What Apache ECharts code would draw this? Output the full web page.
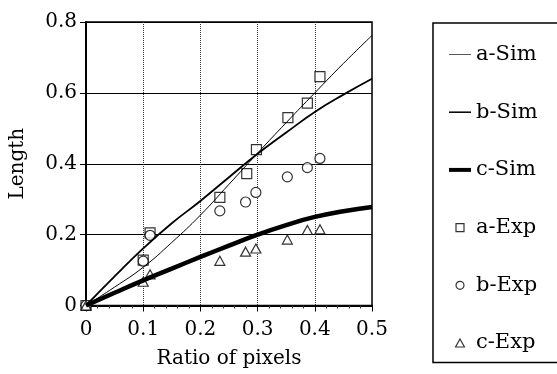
<!DOCTYPE html>
<html>
<head>
<meta charset="utf-8">
<script src="https://cdn.jsdelivr.net/npm/echarts@6/dist/echarts.min.js"></script>
<style>
  html, body { margin: 0; padding: 0; background: #fff; }
  #chart { width: 557px; height: 374px; }
</style>
</head>
<body>
<div id="chart"></div>
<script>
// simulation curves, sampled along x
var xSim = [0, 0.05, 0.1, 0.15, 0.2, 0.25, 0.3, 0.35, 0.4, 0.45, 0.5];
var aSim = [0, 0.052, 0.108, 0.178, 0.255, 0.342, 0.43, 0.516, 0.60, 0.683, 0.762];
var bSim = [0, 0.082, 0.161, 0.232, 0.295, 0.362, 0.428, 0.488, 0.546, 0.595, 0.64];
var cSim = [0, 0.036, 0.071, 0.104, 0.137, 0.169, 0.2, 0.227, 0.25, 0.266, 0.278];

// experiment points
var aExpX = [0, 0.1, 0.112, 0.234, 0.281, 0.298, 0.353, 0.387, 0.409];
var aExpY = [0, 0.128, 0.205, 0.305, 0.372, 0.44, 0.53, 0.571, 0.646];
var bExpX = [0, 0.1, 0.112, 0.234, 0.279, 0.297, 0.352, 0.387, 0.409];
var bExpY = [0, 0.125, 0.198, 0.267, 0.292, 0.319, 0.363, 0.389, 0.415];
var cExpX = [0, 0.1, 0.112, 0.234, 0.279, 0.297, 0.352, 0.387, 0.409];
var cExpY = [0, 0.067, 0.088, 0.126, 0.152, 0.161, 0.186, 0.213, 0.215];

var xTicks = [0, 0.1, 0.2, 0.3, 0.4, 0.5];
var yTicks = [0, 0.2, 0.4, 0.6, 0.8];

function pairs(xs, ys) {
    return xs.map(function (x, i) { return [x, ys[i]]; });
}
function tickLabel(v) {
    return v === 0 ? '0' : v.toFixed(1);
}

var font = 'DejaVu Serif';
var chart = echarts.init(document.getElementById('chart'));

var hollow = { color: '#fff', borderColor: '#000', borderWidth: 1.2 };
var solid = { color: '#000', borderWidth: 0 };
// legend icons (paths so they keep their own shape)
var squarePath = 'path://M0,0H10V10H0Z';
var trianglePath = 'path://M5,0L10,9L0,9Z';

var option = {
    animation: false,
    backgroundColor: '#fff',
    grid: {
        left: 86, top: 22, width: 286, height: 283.5,
        show: true, borderColor: '#000', borderWidth: 1.5, backgroundColor: 'transparent'
    },
    legend: {
        orient: 'vertical',
        left: 433, top: 23,
        itemWidth: 22, itemHeight: 8, itemGap: 36.7,
        padding: [21, 40, 9, 16],
        borderColor: '#000', borderWidth: 1.5,
        symbolKeepAspect: true,
        textStyle: { fontFamily: font, fontSize: 21, color: '#000' },
        data: [
            { name: 'a-Sim', icon: 'path://M0,0H20V0.8H0Z', itemStyle: { color: '#444', borderWidth: 0 } },
            { name: 'b-Sim', icon: 'path://M0,0H20V1.4H0Z', itemStyle: solid },
            { name: 'c-Sim', icon: 'path://M0,0H20V3.6H0Z', itemStyle: solid },
            { name: 'a-Exp', icon: squarePath, itemStyle: hollow },
            { name: 'b-Exp', icon: 'circle', itemStyle: hollow },
            { name: 'c-Exp', icon: trianglePath, itemStyle: hollow }
        ]
    },
    xAxis: {
        type: 'value',
        min: xTicks[0], max: xTicks[xTicks.length - 1], interval: 0.1,
        name: 'Ratio of pixels', nameLocation: 'middle', nameGap: 43,
        nameTextStyle: { fontFamily: font, fontSize: 20, color: '#000' },
        axisLine: { onZero: false, lineStyle: { color: '#000', width: 2 } },
        axisTick: { show: true, length: 6, lineStyle: { color: '#000' } },
        minorTick: { show: true, splitNumber: 5, length: 3, lineStyle: { color: '#333' } },
        axisLabel: { margin: 14, fontFamily: font, fontSize: 20, color: '#000', formatter: tickLabel },
        splitLine: { show: true, lineStyle: { color: '#333', type: 'dotted', width: 1 } }
    },
    yAxis: {
        type: 'value',
        min: yTicks[0], max: yTicks[yTicks.length - 1], interval: 0.2,
        name: 'Length', nameLocation: 'middle', nameGap: 58,
        nameTextStyle: { fontFamily: font, fontSize: 20, color: '#000' },
        axisLine: { onZero: false, lineStyle: { color: '#000', width: 2 } },
        axisTick: { show: true, length: 6, lineStyle: { color: '#000' } },
        axisLabel: { margin: 9, fontFamily: font, fontSize: 20, color: '#000', formatter: tickLabel },
        splitLine: { show: true, lineStyle: { color: '#000', width: 1 } }
    },
    series: [
        {
            name: 'a-Sim', type: 'line', symbol: 'none', smooth: true,
            lineStyle: { color: '#000', width: 1 }, itemStyle: { color: '#000' },
            data: pairs(xSim, aSim)
        },
        {
            name: 'b-Sim', type: 'line', symbol: 'none', smooth: true,
            lineStyle: { color: '#000', width: 1.8 }, itemStyle: { color: '#000' },
            data: pairs(xSim, bSim)
        },
        {
            name: 'c-Sim', type: 'line', symbol: 'none', smooth: true,
            lineStyle: { color: '#000', width: 4.5 }, itemStyle: { color: '#000' },
            data: pairs(xSim, cSim)
        },
        {
            name: 'a-Exp', type: 'scatter', symbol: 'rect', symbolSize: 10,
            itemStyle: hollow, data: pairs(aExpX, aExpY)
        },
        {
            name: 'b-Exp', type: 'scatter', symbol: 'circle', symbolSize: 10,
            itemStyle: hollow, data: pairs(bExpX, bExpY)
        },
        {
            name: 'c-Exp', type: 'scatter', symbol: 'triangle', symbolSize: [10, 9],
            itemStyle: hollow, data: pairs(cExpX, cExpY)
        }
    ]
};
chart.setOption(option);
</script>
</body>
</html>
